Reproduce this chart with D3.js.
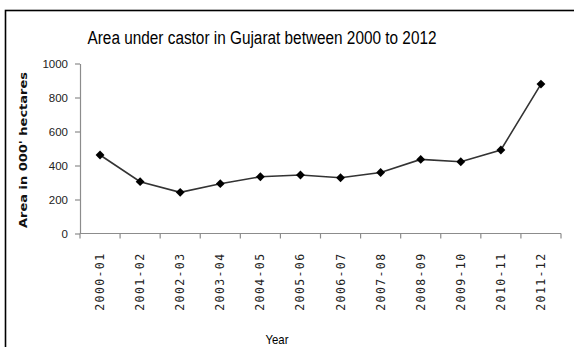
<!DOCTYPE html>
<html>
<head>
<meta charset="utf-8">
<script src="https://cdn.jsdelivr.net/npm/d3@7"></script>
<style>
  html, body { margin: 0; padding: 0; background: #fff; }
  svg { display: block; }
</style>
</head>
<body>
<script>
// Castor acreage in Gujarat, thousand hectares, per agricultural year
const years = ["2000-01", "2001-02", "2002-03", "2003-04", "2004-05", "2005-06",
               "2006-07", "2007-08", "2008-09", "2009-10", "2010-11", "2011-12"];
const areaValues = [462, 305, 242, 293, 334, 344, 328, 359, 436, 422, 491, 879];
const yTickValues = [0, 200, 400, 600, 800, 1000];

const W = 574, H = 347;
const margin = { left: 80, right: 13, top: 63.5, bottom: 113.5 };

const svg = d3.select("body").append("svg")
  .attr("width", W).attr("height", H);

// chart frame (runs past the right and bottom edges)
svg.append("rect")
  .attr("x", 5.5).attr("y", 10.5)
  .attr("width", 600).attr("height", 400)
  .attr("fill", "none").attr("stroke", "#000").attr("stroke-width", 1.6);

const x = d3.scaleBand().domain(years)
  .range([margin.left, W - margin.right]);
const y = d3.scaleLinear().domain([0, 1000])
  .range([H - margin.bottom, margin.top]);

const axisColor = "#8c8c8c";

// y axis
const yAxis = svg.append("g")
  .attr("transform", `translate(${margin.left},0)`)
  .call(d3.axisLeft(y).tickValues(yTickValues).tickFormat(d3.format("d"))
    .tickSize(5).tickPadding(7).tickSizeOuter(0));
yAxis.select(".domain").attr("stroke", axisColor).attr("stroke-width", 1.2);
yAxis.selectAll(".tick line").attr("stroke", axisColor).attr("stroke-width", 1.2);
yAxis.selectAll(".tick text")
  .attr("fill", "#222")
  .style("font-family", "'Liberation Sans', Arial, sans-serif")
  .style("font-size", "11.5px");

// x axis with ticks on band boundaries
const xAxisG = svg.append("g")
  .attr("transform", `translate(0,${H - margin.bottom})`);
xAxisG.append("line")
  .attr("x1", x.range()[0]).attr("x2", x.range()[1])
  .attr("stroke", axisColor).attr("stroke-width", 1.2);
const boundaries = years.map(d => x(d)).concat([x.range()[1]]);
xAxisG.selectAll("line.tick").data(boundaries).join("line")
  .attr("class", "tick")
  .attr("x1", d => d).attr("x2", d => d)
  .attr("y1", 0).attr("y2", 5)
  .attr("stroke", axisColor).attr("stroke-width", 1.2);
xAxisG.selectAll("text.lbl").data(years).join("text")
  .attr("class", "lbl")
  .attr("transform", d => `translate(${x(d) + x.bandwidth() / 2 + 4},${19}) rotate(-90)`)
  .attr("text-anchor", "end")
  .attr("fill", "#222")
  .style("font-family", "'DejaVu Sans Mono', monospace")
  .style("font-size", "11.5px")
  .style("letter-spacing", "1.4px")
  .text(d => d);

// line and diamond markers
const pts = years.map((d, i) => [x(d) + x.bandwidth() / 2, y(areaValues[i])]);
svg.append("path")
  .attr("d", d3.line()(pts))
  .attr("fill", "none").attr("stroke", "#333").attr("stroke-width", 1.6);
svg.selectAll("path.mark").data(pts).join("path")
  .attr("class", "mark")
  .attr("transform", d => `translate(${d[0]},${d[1]})`)
  .attr("d", d3.symbol(d3.symbolDiamond2, 50)())
  .attr("fill", "#000");

// title
svg.append("text")
  .attr("x", 262).attr("y", 44)
  .attr("text-anchor", "middle")
  .attr("textLength", 349).attr("lengthAdjust", "spacingAndGlyphs")
  .attr("fill", "#000")
  .style("font-family", "'Liberation Sans', Arial, sans-serif")
  .style("font-size", "18px")
  .text("Area under castor in Gujarat between 2000 to 2012");

// y axis title
svg.append("text")
  .attr("transform", "translate(27,150) rotate(-90)")
  .attr("text-anchor", "middle")
  .attr("textLength", 156).attr("lengthAdjust", "spacingAndGlyphs")
  .attr("fill", "#111")
  .style("font-family", "'DejaVu Sans', sans-serif")
  .style("font-weight", "bold")
  .style("font-size", "11px")
  .text("Area in 000' hectares");

// x axis title
svg.append("text")
  .attr("x", 277).attr("y", 344)
  .attr("text-anchor", "middle")
  .attr("textLength", 23).attr("lengthAdjust", "spacingAndGlyphs")
  .attr("fill", "#000")
  .style("font-family", "'Liberation Sans', Arial, sans-serif")
  .style("font-size", "13px")
  .text("Year");
</script>
</body>
</html>
